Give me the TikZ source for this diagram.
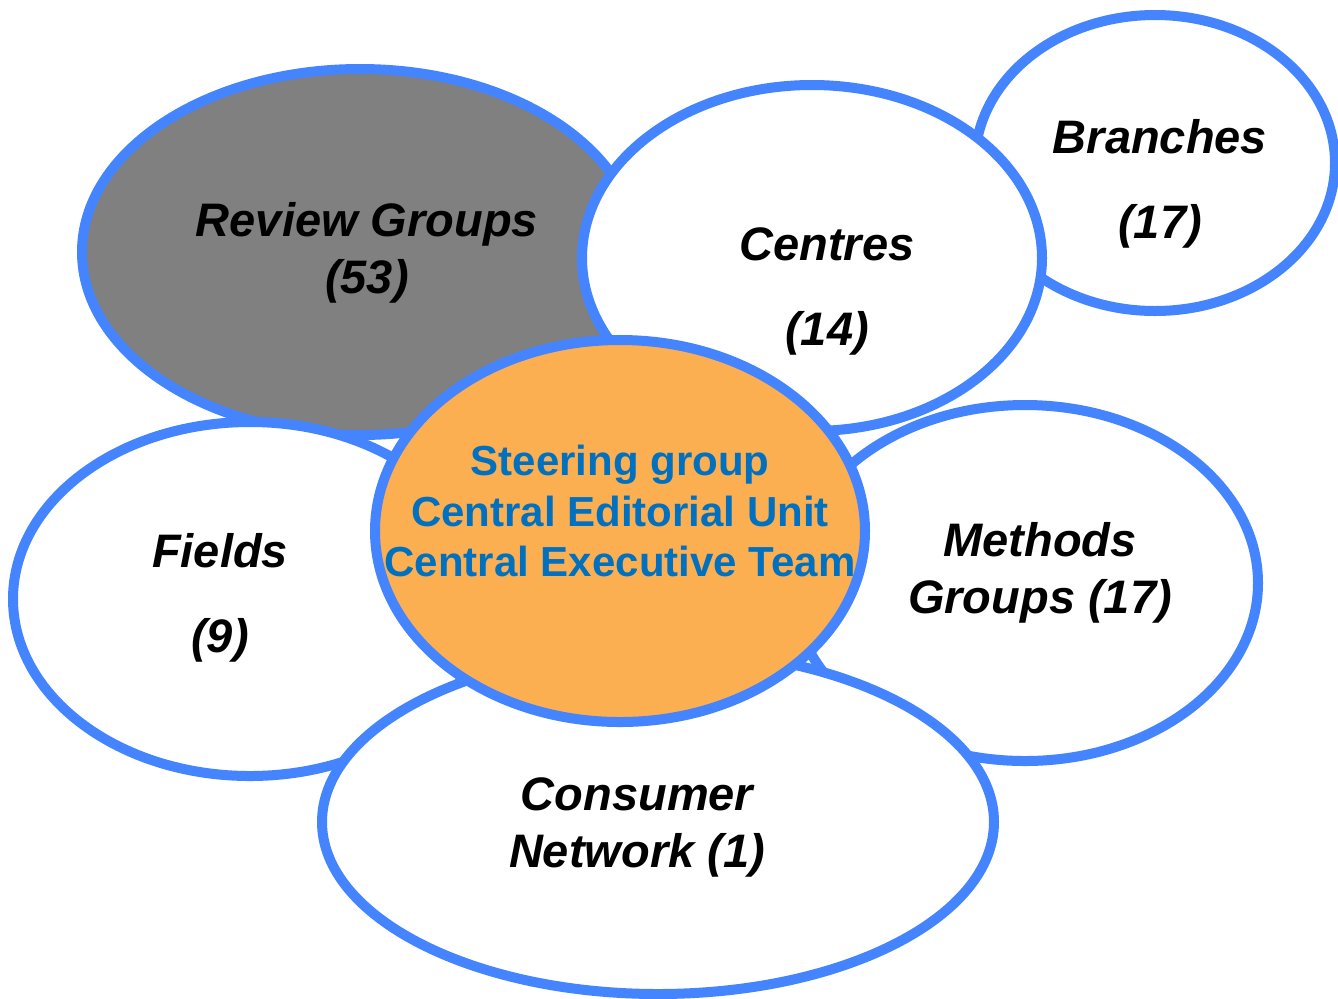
\documentclass[tikz,border=0pt]{standalone}
\usepackage{fontspec}
\setmainfont{Liberation Sans}
\definecolor{rimblue}{RGB}{69,132,255}
\definecolor{coreorange}{RGB}{252,175,80}
\definecolor{coreblue}{RGB}{0,112,192}
\definecolor{groupgray}{RGB}{128,128,128}
\tikzset{
  ring/.style={draw=rimblue,line width=5pt},
  grouptext/.style={align=center,font=\fontsize{23.5}{28.5}\selectfont\bfseries\itshape},
  coretext/.style={align=center,text=coreblue,font=\fontsize{21}{25.2}\selectfont\bfseries}
}
\begin{document}
\begin{tikzpicture}[x=0.5pt,y=-0.5pt]
        \useasboundingbox (0,0) rectangle (1338,998);
        %% Review groups, at the back
        \filldraw[ring,fill=groupgray] (360,252) ellipse (278 and 183);
        %% The white rings, back to front
        \foreach \cx/\cy/\rx/\ry in {1155/163/180/148,812/258/230/173,1025/583/233/178,250/599/237/177,658/822/336/172}
            \filldraw[ring,fill=white] (\cx,\cy) ellipse [x radius=\rx, y radius=\ry];
        %% Core
        \filldraw[ring,fill=coreorange] (620,531) ellipse (245 and 191);
        %% Labels
        \node[grouptext] (review) at (367,253) {Review Groups\\(53)};
        \node[grouptext] (branches) at (1160,184) {Branches\\[14pt](17)};
        \node[grouptext] (centres) at (827,291) {Centres\\[14pt](14)};
        \node[grouptext] (methods) at (1040,573) {Methods\\Groups (17)};
        \node[grouptext] (fields) at (220,598) {Fields\\[14pt](9)};
        \node[grouptext] (consumer) at (637,827) {Consumer\\Network (1)};
        \node[coretext] (core) at (620,511) {Steering group\\Central Editorial Unit\\Central Executive Team};
    \end{tikzpicture}
\end{document}
